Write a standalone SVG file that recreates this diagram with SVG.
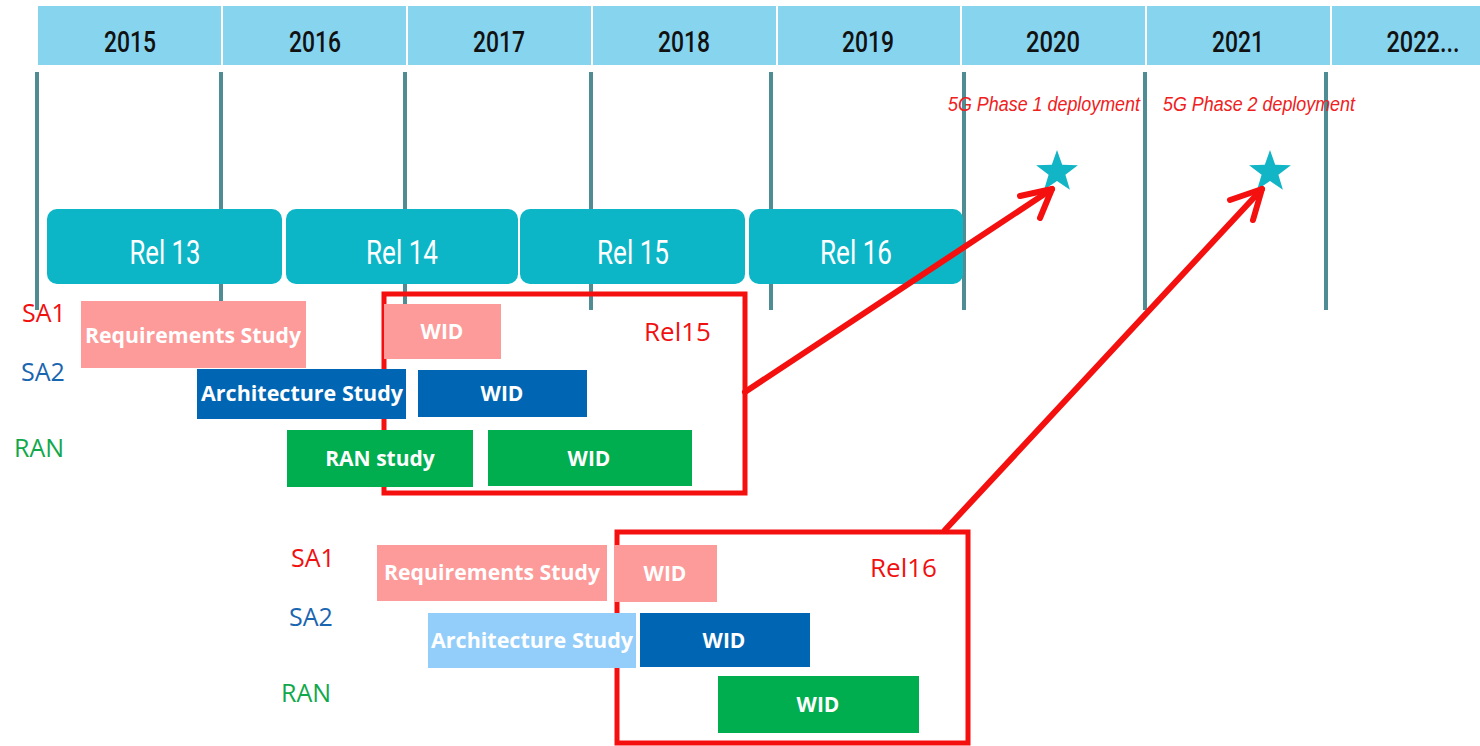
<svg xmlns="http://www.w3.org/2000/svg" width="1480" height="746" viewBox="0 0 1480 746">
<style>
.hdr{fill:#87d4ef}
.year{font-family:Roboto,"Liberation Sans",sans-serif;font-size:30px;font-weight:500;fill:#111;text-anchor:middle}
.vl{stroke:#4f8c94;stroke-width:4}
.rel{fill:#0db6c7}
.reltxt{font-family:Roboto,"Liberation Sans",sans-serif;font-size:34px;font-weight:400;fill:#fff;text-anchor:middle}
.dep{font-family:"Liberation Sans",Arial,sans-serif;font-style:italic;font-size:20px;fill:#f02020}
.star{fill:#12b5c6}
.lbl{font-family:"Open Sans","Liberation Sans",sans-serif;font-size:25px;text-anchor:middle}
.bx{font-family:"Open Sans","Liberation Sans",sans-serif;font-size:21px;font-weight:700;fill:#fff;text-anchor:middle}
.frame{fill:none;stroke:#f51010;stroke-width:5}
.ftxt{font-family:"Open Sans","Liberation Sans",sans-serif;font-size:26px;fill:#f01010}
.arr{fill:none;stroke:#f51010;stroke-width:6;stroke-linecap:round;stroke-linejoin:round}
</style>
<rect width="1480" height="746" fill="#fff"/>
<g id="header">
<rect class="hdr" x="38" y="6" width="1442" height="59"/>
<g stroke="#fff" stroke-width="2">
<line x1="222" y1="6" x2="222" y2="65"/><line x1="407" y1="6" x2="407" y2="65"/><line x1="592" y1="6" x2="592" y2="65"/><line x1="777" y1="6" x2="777" y2="65"/><line x1="961" y1="6" x2="961" y2="65"/><line x1="1146" y1="6" x2="1146" y2="65"/><line x1="1331" y1="6" x2="1331" y2="65"/>
</g>
<text class="year" x="130" y="52" textLength="52" lengthAdjust="spacingAndGlyphs">2015</text>
<text class="year" x="315" y="52" textLength="52" lengthAdjust="spacingAndGlyphs">2016</text>
<text class="year" x="499" y="52" textLength="52" lengthAdjust="spacingAndGlyphs">2017</text>
<text class="year" x="684" y="52" textLength="52" lengthAdjust="spacingAndGlyphs">2018</text>
<text class="year" x="868" y="52" textLength="52" lengthAdjust="spacingAndGlyphs">2019</text>
<text class="year" x="1053" y="52" textLength="54" lengthAdjust="spacingAndGlyphs">2020</text>
<text class="year" x="1238" y="52" textLength="52" lengthAdjust="spacingAndGlyphs">2021</text>
<text class="year" x="1423" y="52" textLength="73" lengthAdjust="spacingAndGlyphs">2022...</text>
</g>
<g id="gridlines">
<line class="vl" x1="37" y1="72" x2="37" y2="310"/>
<line class="vl" x1="221" y1="72" x2="221" y2="310"/>
<line class="vl" x1="405" y1="72" x2="405" y2="310"/>
<line class="vl" x1="591" y1="72" x2="591" y2="310"/>
<line class="vl" x1="771" y1="72" x2="771" y2="310"/>
<line class="vl" x1="964" y1="72" x2="964" y2="310"/>
<line class="vl" x1="1145" y1="72" x2="1145" y2="310"/>
<line class="vl" x1="1326" y1="72" x2="1326" y2="310"/>
</g>
<g id="rel13"><rect class="rel" x="47" y="209" width="235" height="75" rx="10"/><text class="reltxt" x="165" y="264" textLength="71" lengthAdjust="spacingAndGlyphs">Rel 13</text></g>
<g id="rel14"><rect class="rel" x="286" y="209" width="232" height="75" rx="10"/><text class="reltxt" x="402" y="264" textLength="72" lengthAdjust="spacingAndGlyphs">Rel 14</text></g>
<g id="rel15"><rect class="rel" x="520" y="209" width="225" height="75" rx="10"/><text class="reltxt" x="633" y="264" textLength="72" lengthAdjust="spacingAndGlyphs">Rel 15</text></g>
<g id="rel16"><rect class="rel" x="749" y="209" width="214" height="75" rx="10"/><text class="reltxt" x="856" y="264" textLength="72" lengthAdjust="spacingAndGlyphs">Rel 16</text></g>
<g id="phase1">
<text class="dep" x="948" y="111" textLength="192" lengthAdjust="spacingAndGlyphs">5G Phase 1 deployment</text>
<polygon class="star" points="1057,150 1062.2,164.8 1077.9,165.2 1065.4,174.8 1069.9,189.8 1057,180.9 1044.1,189.8 1048.6,174.8 1036.1,165.2 1051.8,164.8"/>
</g>
<g id="phase2">
<text class="dep" x="1163" y="111" textLength="192" lengthAdjust="spacingAndGlyphs">5G Phase 2 deployment</text>
<polygon class="star" points="1270,150 1275.2,164.8 1290.9,165.2 1278.4,174.8 1282.9,189.8 1270,180.9 1257.1,189.8 1261.6,174.8 1249.1,165.2 1264.8,164.8"/>
</g>
<g id="rel15-plan">
<rect class="frame" x="384" y="294" width="361" height="199"/>
<text class="ftxt" x="644" y="341">Rel15</text>
<text class="lbl" x="44" y="322" fill="#f01010">SA1</text>
<text class="lbl" x="43" y="381" fill="#1a65b0">SA2</text>
<text class="lbl" x="39" y="457" fill="#10a84a">RAN</text>
<rect x="81" y="301" width="225" height="67" fill="#fd9a9a"/>
<text class="bx" x="193" y="343" textLength="216" lengthAdjust="spacingAndGlyphs">Requirements Study</text>
<rect x="197" y="369" width="209" height="50" fill="#0066b3"/>
<text class="bx" x="302" y="401" textLength="202" lengthAdjust="spacingAndGlyphs">Architecture Study</text>
<rect x="287" y="430" width="186" height="57" fill="#00ad4f"/>
<text class="bx" x="380" y="466">RAN study</text>
<rect x="384" y="304" width="117" height="55" fill="#fd9a9a"/>
<text class="bx" x="442" y="339">WID</text>
<rect x="418" y="370" width="169" height="47" fill="#0066b3"/>
<text class="bx" x="502" y="401">WID</text>
<rect x="488" y="430" width="204" height="56" fill="#00ad4f"/>
<text class="bx" x="589" y="466">WID</text>
</g>
<g id="rel16-plan">
<rect class="frame" x="617" y="532" width="351" height="211"/>
<text class="ftxt" x="870" y="577">Rel16</text>
<text class="lbl" x="313" y="567" fill="#f01010">SA1</text>
<text class="lbl" x="311" y="626" fill="#1a65b0">SA2</text>
<text class="lbl" x="306" y="702" fill="#10a84a">RAN</text>
<rect x="377" y="545" width="230" height="56" fill="#fd9a9a"/>
<text class="bx" x="492" y="580" textLength="216" lengthAdjust="spacingAndGlyphs">Requirements Study</text>
<rect x="614" y="545" width="103" height="57" fill="#fd9a9a"/>
<text class="bx" x="665" y="581">WID</text>
<rect x="428" y="613" width="208" height="55" fill="#93cefb"/>
<text class="bx" x="532" y="648" textLength="202" lengthAdjust="spacingAndGlyphs">Architecture Study</text>
<rect x="640" y="613" width="170" height="54" fill="#0066b3"/>
<text class="bx" x="724" y="648">WID</text>
<rect x="718" y="676" width="201" height="57" fill="#00ad4f"/>
<text class="bx" x="818" y="712">WID</text>
</g>
<g id="connectors">
<path class="arr" d="M745,392 L1052,189"/>
<path class="arr" d="M1020,196 L1052,189 L1040,218"/>
<path class="arr" d="M945,530 L1262,189"/>
<path class="arr" d="M1230,200 L1262,189 L1253,220"/>
</g>
</svg>
